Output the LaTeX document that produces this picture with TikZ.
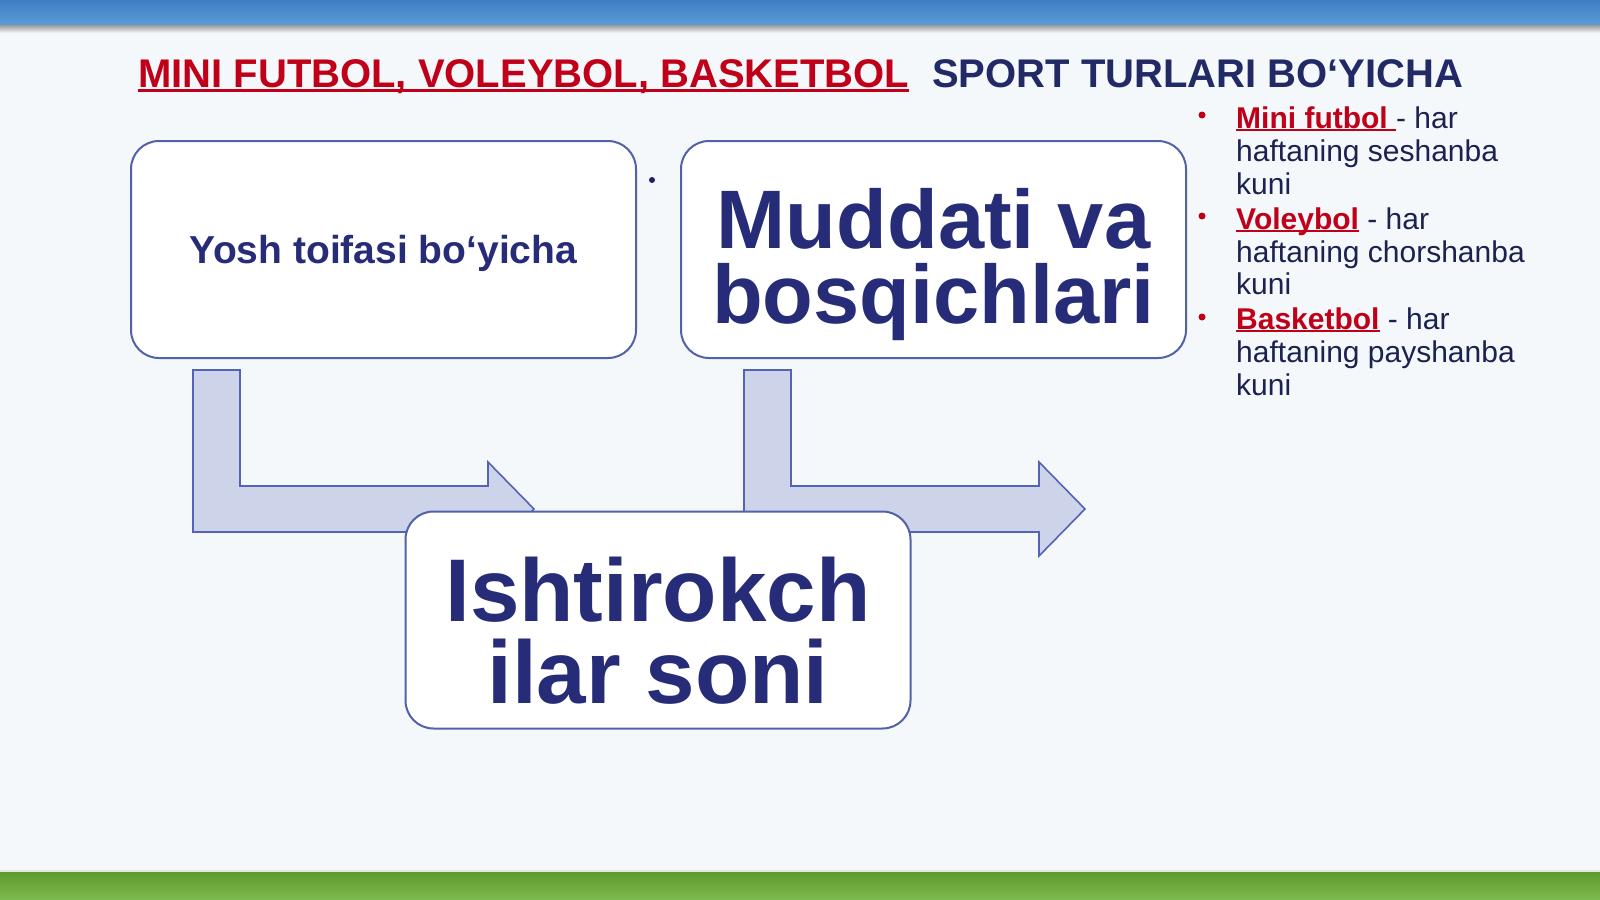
\documentclass[tikz,border=0pt]{standalone}
\usepackage{fontspec}
\setmainfont{Liberation Sans}
\usetikzlibrary{calc}
\definecolor{navy}{HTML}{262C78}
\definecolor{titlenavy}{HTML}{222A66}
\definecolor{bodytxt}{HTML}{1C2150}
\definecolor{redt}{HTML}{C00018}
\definecolor{boxline}{HTML}{5262A6}
\definecolor{arrowfill}{HTML}{CDD3E8}
\definecolor{arrowline}{HTML}{5363B5}
\definecolor{bgc}{HTML}{F4F8FB}
\definecolor{bluetop}{HTML}{3F7EC4}
\definecolor{bluebot}{HTML}{5E9CD8}
\definecolor{greentop}{HTML}{5F9A2C}
\definecolor{greenbot}{HTML}{7CB94E}
\newsavebox\ulbox
\newcommand\myul[1]{\sbox\ulbox{#1}\rlap{\rule[-0.09em]{\wd\ulbox}{0.065em}}\usebox\ulbox}
\begin{document}
\begin{tikzpicture}[x=1pt,y=-1pt,
  box/.style={draw=boxline, line width=2pt, fill=white, rounded corners=28pt,
    minimum width=505pt, minimum height=217pt, inner sep=0pt},
  bigtxt/.style={text=navy, align=center, inner sep=0pt},
  bent/.style={fill=arrowfill, draw=arrowline, line width=1.6pt, line join=miter},
  line/.style={anchor=base west, inner sep=0pt, text=bodytxt,
    font=\fontsize{30}{34}\selectfont},
  bul/.style={circle, fill=redt, inner sep=0pt, minimum size=7pt},
  title/.style={anchor=base west, inner sep=0pt, font=\fontsize{40}{48}\selectfont\bfseries}]
\useasboundingbox (0,0) rectangle (1600,899);
% background and bars
\fill[bgc] (0,0) rectangle (1600,899);
\shade[top color=bluetop, bottom color=bluebot] (0,0) rectangle (1600,26);
\shade[top color=gray!70, bottom color=bgc] (0,26) rectangle (1600,33);
\shade[top color=greentop, bottom color=greenbot] (0,872) rectangle (1600,899);
\fill[white!80!greentop] (0,870) rectangle (1600,872);
% title
\node[title, text=redt] (t1) at (138,88) {\myul{MINI FUTBOL, VOLEYBOL, BASKETBOL}};
\node[title, text=titlenavy] (t2) at (932,88) {SPORT TURLARI BO‘YICHA};
% bent arrows
\draw[bent] (193,370) -- (240,370) -- (240,486) -- (488,486) -- (488,462) -- (534,509)
  -- (488,556) -- (488,532) -- (193,532) -- cycle;
\draw[bent] (744,370) -- (791,370) -- (791,486) -- (1039,486) -- (1039,462) -- (1085,509)
  -- (1039,556) -- (1039,532) -- (744,532) -- cycle;
% boxes
\node[box] (yosh) at (383.5,249.5) {};
\node[box] (mudd) at (933.5,249.5) {};
\node[box] (isht) at (658,620) {};
\node[bigtxt, font=\fontsize{39}{46}\selectfont\bfseries] (yoshT) at ($(yosh.center)+(0,4)$) {Yosh toifasi bo‘yicha};
\node[bigtxt, font=\fontsize{83}{75}\selectfont\bfseries] (muddT) at ($(mudd.center)+(0,15)$) {Muddati va\\bosqichlari};
\node[bigtxt, font=\fontsize{89}{82}\selectfont\bfseries] (ishtT) at ($(isht.center)+(0,11)$) {Ishtirokch\\ilar soni};
% small dot
\node[circle, fill=navy!80!black, inner sep=0pt, minimum size=6pt] (dot) at (652,180) {};
% bullet list
\node[bul] (b1) at (1202,115) {};
\node[bul] (b2) at (1202,216) {};
\node[bul] (b3) at (1202,317) {};
\node[line] (l1) at (1236,128) {\textcolor{redt}{\bfseries\myul{Mini futbol }}- har};
\node[line] (l2) at (1236,161) {haftaning seshanba};
\node[line] (l3) at (1236,194) {kuni};
\node[line] (l4) at (1236,229) {\textcolor{redt}{\bfseries\myul{Voleybol}} - har};
\node[line] (l5) at (1236,262) {haftaning chorshanba};
\node[line] (l6) at (1236,294) {kuni};
\node[line] (l7) at (1236,329) {\textcolor{redt}{\bfseries\myul{Basketbol}} - har};
\node[line] (l8) at (1236,362) {haftaning payshanba};
\node[line] (l9) at (1236,395) {kuni};
\end{tikzpicture}
\end{document}
